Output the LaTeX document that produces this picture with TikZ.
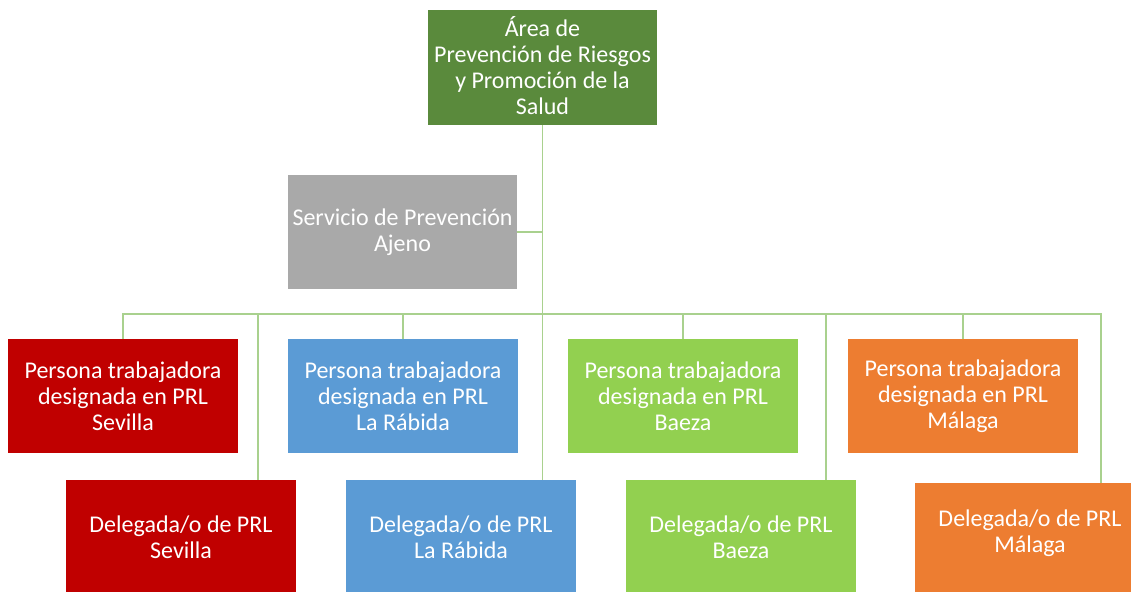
\documentclass[tikz,border=0pt]{standalone}
\usepackage{fontspec}
\setmainfont{Carlito}
\definecolor{topgreen}{HTML}{5A8A3C}
\definecolor{boxgray}{HTML}{A9A9A9}
\definecolor{sred}{HTML}{C00000}
\definecolor{sblue}{HTML}{5B9BD5}
\definecolor{sgreen}{HTML}{92D050}
\definecolor{sorange}{HTML}{ED7D31}
\definecolor{conn}{HTML}{A9D18E}
\begin{document}
\begin{tikzpicture}[x=1pt,y=-1pt,
  orgbox/.style={rectangle, draw=none, text=white, align=center, inner sep=0pt,
    minimum width=230pt, minimum height=114pt,
    font=\fontsize{24pt}{26pt}\selectfont},
  boxtext/.style={text=white, align=center, inner sep=0pt, font=\fontsize{24pt}{26pt}\selectfont},
  link/.style={draw=conn, line width=1.3pt}]
\useasboundingbox (0,0) rectangle (1131,591);
\node[orgbox, fill=topgreen, minimum width=229pt, minimum height=115pt] (top) at (542.5,67.5) {};
\node[boxtext] (toptext) at (542.5,65.5) {Área de\\Prevención de Riesgos\\y Promoción de la\\Salud};
\node[orgbox, fill=boxgray, minimum width=229pt] (spa) at (402.5,232) {Servicio de Prevención\\Ajeno};
\node[orgbox, fill=sred] (perS) at (123,396) {Persona trabajadora\\designada en PRL\\Sevilla};
\node[orgbox, fill=sblue] (perR) at (403,396) {Persona trabajadora\\designada en PRL\\La Rábida};
\node[orgbox, fill=sgreen] (perB) at (683,396) {Persona trabajadora\\designada en PRL\\Baeza};
\node[orgbox, fill=sorange] (perM) at (963,396) {Persona trabajadora\\designada en PRL\\Málaga};
\node[orgbox, fill=sred] (delS) at (181,537) {Delegada/o de PRL\\Sevilla};
\node[orgbox, fill=sblue] (delR) at (461,537) {Delegada/o de PRL\\La Rábida};
\node[orgbox, fill=sgreen] (delB) at (741,537) {Delegada/o de PRL\\Baeza};
\node[orgbox, fill=sorange] (delM) at (1030,540) {};
\node[boxtext] (delMtext) at (1030,533) {Delegada/o de PRL\\Málaga};
\coordinate (busL) at (123,314);
\coordinate (jS) at (258,314);
\coordinate (jB) at (826,314);
\coordinate (jM) at (1101,314);
\path[link] (top.south) -- (top.south |- delR.north);
\path[link] (spa.east) -- (spa.east -| top.south);
\path[link] (perS.north) -- (busL) -- (jM) -- (jM |- delM.north);
\path[link] (perR.north) -- (perR.north |- busL);
\path[link] (perB.north) -- (perB.north |- busL);
\path[link] (perM.north) -- (perM.north |- busL);
\path[link] (jS) -- (jS |- delS.north);
\path[link] (jB) -- (jB |- delB.north);
\end{tikzpicture}
\end{document}
